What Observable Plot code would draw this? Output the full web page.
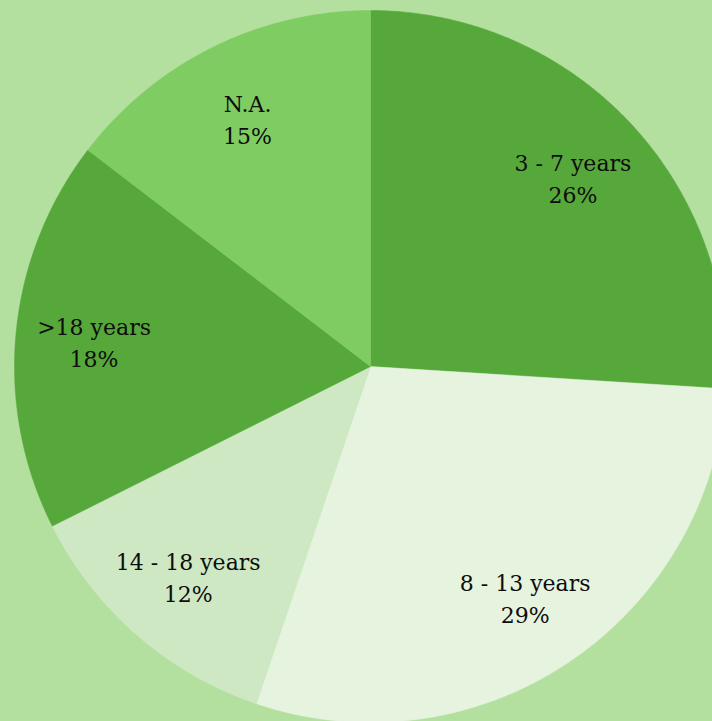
<!DOCTYPE html>
<html>
<head>
<meta charset="utf-8">
<script src="https://cdn.jsdelivr.net/npm/d3@7"></script>
<script src="https://cdn.jsdelivr.net/npm/@observablehq/plot@0.6"></script>
<style>
  html, body { margin: 0; padding: 0; background: #b3df9f; overflow: hidden; }
  #chart svg { display: block; }
</style>
</head>
<body>
<div id="chart"></div>
<script>
// Data (clockwise from 12 o'clock)
const categories = ["3 - 7 years", "8 - 13 years", "14 - 18 years", ">18 years", "N.A."];
const values = [26.0, 29.2, 12.4, 17.8, 14.6];
const colors = ["#57a83a", "#e5f3df", "#cde8c3", "#57a83a", "#7fcc63"];

const total = d3.sum(values);
const slices = [];
const labels = [];
let acc = 0;
categories.forEach((cat, i) => {
  const a0 = acc / total * 2 * Math.PI;
  acc += values[i];
  const a1 = acc / total * 2 * Math.PI;
  const n = Math.max(2, Math.ceil((a1 - a0) / (Math.PI / 360)));
  slices.push({cat, x: 0, y: 0, color: colors[i]});
  for (let k = 0; k <= n; k++) {
    const a = a0 + (a1 - a0) * k / n;
    slices.push({cat, x: Math.sin(a), y: Math.cos(a), color: colors[i]});
  }
  slices.push({cat, x: 0, y: 0, color: colors[i]});
  const am = (a0 + a1) / 2;
  const r = 0.78;
  labels.push({x: r * Math.sin(am), y: r * Math.cos(am), text: `${cat}\n${Math.round(values[i])}%`});
});

const plot = Plot.plot({
  width: 712,
  height: 721,
  margin: 0,
  style: {background: "#b3df9f", overflow: "hidden"},
  x: {domain: [-1, 1], range: [14, 726], axis: null},
  y: {domain: [-1, 1], range: [722, 10], axis: null},
  marks: [
    Plot.line(slices, {x: "x", y: "y", z: "cat", fill: "color", stroke: "color", strokeWidth: 0.5, curve: "linear"}),
    Plot.text(labels, {
      x: "x", y: "y", text: "text",
      fontFamily: "DejaVu Serif", fontSize: 22, lineHeight: 1.45,
      fill: "#0d0d0d", lineAnchor: "middle", textAnchor: "middle"
    })
  ]
});
document.getElementById("chart").appendChild(plot);
</script>
</body>
</html>
